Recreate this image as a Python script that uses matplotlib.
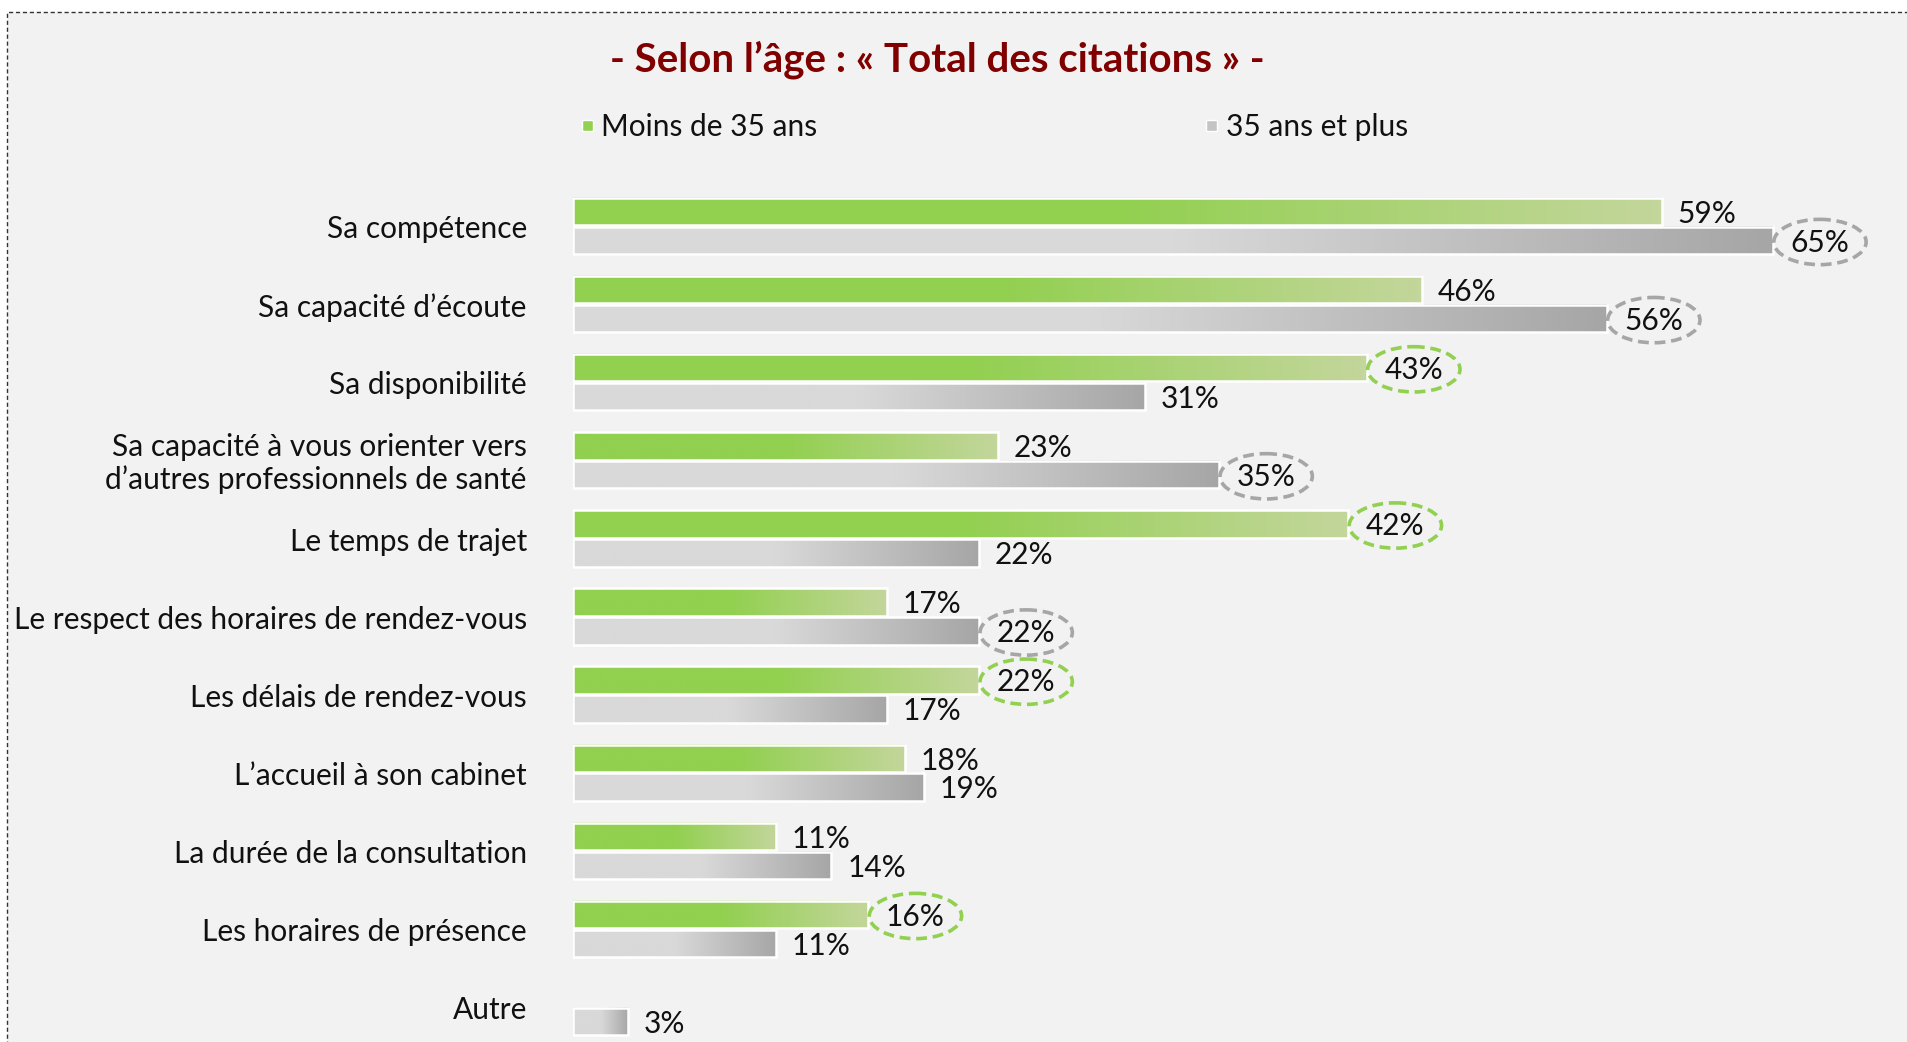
import numpy as np
import matplotlib.pyplot as plt
from matplotlib.patches import Rectangle, Ellipse
from matplotlib.colors import LinearSegmentedColormap

# ---------------- data ----------------
categories = ["Sa compétence", "Sa capacité d’écoute", "Sa disponibilité",
              "Sa capacité à vous orienter vers\nd’autres professionnels de santé",
              "Le temps de trajet", "Le respect des horaires de rendez-vous",
              "Les délais de rendez-vous", "L’accueil à son cabinet",
              "La durée de la consultation", "Les horaires de présence", "Autre"]
moins_35 = [59, 46, 43, 23, 42, 17, 22, 18, 11, 16, None]
plus_35 = [65, 56, 31, 35, 22, 22, 17, 19, 14, 11, 3]
# which labels are circled
circ_moins = [False, False, True, False, True, False, True, False, False, True, False]
circ_plus = [True, True, False, True, False, True, False, False, False, False, False]
series_names = ["Moins de 35 ans", "35 ans et plus"]
title = "- Selon l’âge : « Total des citations » -"

# ---------------- style ----------------
FONT = ["Lato", "DejaVu Sans"]
FS = 21.5
green, green_light = "#92D050", "#C3D69B"
grey_light, grey_dark = "#D9D9D9", "#A6A6A6"
cm_green = LinearSegmentedColormap.from_list("g", [(0, green), (0.5, green), (1, green_light)])
cm_grey = LinearSegmentedColormap.from_list("k", [(0, grey_light), (0.5, grey_light), (1, grey_dark)])
grad = np.linspace(0, 1, 256).reshape(1, -1)

W, H = 1908, 1042
fig = plt.figure(figsize=(W / 100, H / 100), dpi=100, facecolor="white")

# background panel with dashed border
fig.patches.append(Rectangle((7 / W, -0.1), 1.2, 1.1 - 12 / H, transform=fig.transFigure,
                             facecolor="#F2F2F2", edgecolor="#333333", lw=1,
                             linestyle=(0, (3, 2)), zorder=-5))

x0 = 573 / W
ax = fig.add_axes([x0, 0, 1 - x0, 1])
ax.patch.set_alpha(0)
ax.axis("off")
ax.set_zorder(2)

off = 0.185   # half distance between the two bars of a row
bh = 0.35     # bar height
dy = 0.03     # small text baseline correction


def draw_bar(v, yc, cmap):
    ax.imshow(grad, extent=(0, v, yc + bh / 2, yc - bh / 2), cmap=cmap,
              aspect="auto", interpolation="bicubic", zorder=2)
    ax.add_patch(Rectangle((0, yc - bh / 2), v, bh, fill=False, edgecolor="white",
                           lw=1.8, zorder=3))


def draw_label(v, yc, circled, ecol):
    if circled:
        xc = v + 2.55
        ax.text(xc, yc + dy, f"{v}%", ha="center", va="center", fontsize=FS,
                family=FONT, color="#111111", zorder=5, clip_on=False)
        ax.add_patch(Ellipse((xc, yc + 0.02), 5.0, 0.58, fill=False, edgecolor=ecol,
                             lw=2.6, linestyle=(0, (3, 1.6)), zorder=4, clip_on=False))
    else:
        ax.text(v + 0.85, yc + dy, f"{v}%", ha="left", va="center", fontsize=FS,
                family=FONT, color="#111111", zorder=5, clip_on=False)


for i, cat in enumerate(categories):
    ax.text(-2.5, i + 0.04, cat, ha="right", va="center", fontsize=FS, family=FONT,
            color="#111111", linespacing=1.2, clip_on=False)
    if moins_35[i] is not None:
        draw_bar(moins_35[i], i - off, cm_green)
        draw_label(moins_35[i], i - off, circ_moins[i], green)
    draw_bar(plus_35[i], i + off, cm_grey)
    draw_label(plus_35[i], i + off, circ_plus[i], grey_dark)

ax.set_xlim(0, (W - 573) / 18.46)
ax.set_ylim((H - 226) / 78.1, -226 / 78.1)

# title and legend
fig.text(937 / W, 1 - 60 / H, title, ha="center", va="center", fontsize=29,
         fontweight="bold", color="#800000", family=FONT)
fig.patches.append(Rectangle((582 / W, 1 - 131 / H), 11 / W, 11 / H, transform=fig.transFigure,
                             facecolor=green, edgecolor="white", lw=1))
fig.text(601 / W, 1 - 127 / H, series_names[0], ha="left", va="center", fontsize=FS,
         family=FONT, color="#111111")
fig.patches.append(Rectangle((1206 / W, 1 - 131 / H), 11 / W, 11 / H, transform=fig.transFigure,
                             facecolor="#C4C4C4", edgecolor="white", lw=1))
fig.text(1226 / W, 1 - 127 / H, series_names[1], ha="left", va="center", fontsize=FS,
         family=FONT, color="#111111")

plt.savefig("out.png", dpi=100, facecolor="white")
